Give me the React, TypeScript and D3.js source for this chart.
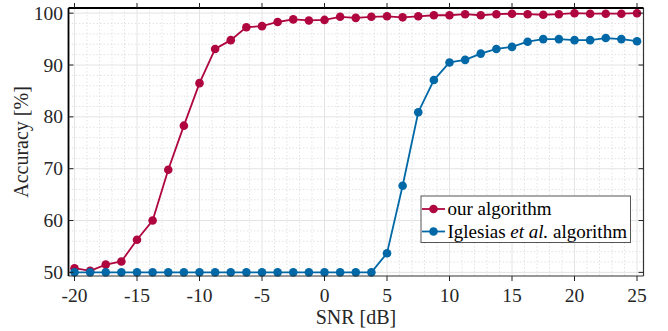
import { useRef, useEffect } from 'react';
import * as d3 from 'd3';

const snr = d3.range(37).map((i) => -20 + i * 1.25);

const ourAlgorithm = [
  50.8, 50.3, 51.5, 52.1, 56.3, 60.0, 69.8, 78.3, 86.5, 93.1, 94.8, 97.3, 97.5,
  98.3, 98.8, 98.6, 98.7, 99.3, 99.1, 99.3, 99.4, 99.2, 99.4, 99.6, 99.6, 99.8,
  99.6, 99.8, 99.9, 99.8, 99.7, 99.8, 100.0, 99.9, 99.9, 99.9, 100.0,
];

const iglesias = [
  50.0, 50.0, 50.0, 50.0, 50.0, 50.0, 50.0, 50.0, 50.0, 50.0, 50.0, 50.0, 50.0,
  50.0, 50.0, 50.0, 50.0, 50.0, 50.0, 50.0, 53.7, 66.7, 80.9, 87.1, 90.5, 91.0,
  92.2, 93.1, 93.5, 94.5, 95.0, 95.0, 94.8, 94.8, 95.2, 95.0, 94.6,
];

const xTicks = [-20, -15, -10, -5, 0, 5, 10, 15, 20, 25];
const yTicks = [50, 60, 70, 80, 90, 100];

const RED = '#b0063f';
const BLUE = '#0068a6';
const FONT = 'Liberation Serif, Times New Roman, serif';

export default function App() {
  const svgRef = useRef<SVGSVGElement>(null);

  useEffect(() => {
    if (!svgRef.current) return;
    const svg = d3.select(svgRef.current);
    svg.selectAll('*').remove();

    const width = 668;
    const height = 331;
    const m = { left: 68.5, right: 24.5, top: 8, bottom: 55 };

    const x = d3.scaleLinear().domain([-20.48, 25.52]).range([m.left, width - m.right]);
    const y = d3.scaleLinear().domain([49.3, 101]).range([height - m.bottom, m.top]);
    const [x0, x1] = x.range();
    const [y1, y0] = y.range();

    // grid
    const grid = svg.append('g');
    const minorX = d3.range(-20, 26, 1).filter((v) => v % 5 !== 0);
    const minorY = d3.range(50, 101, 2).filter((v) => v % 10 !== 0);
    grid.selectAll('.mx').data(minorX).join('line')
      .attr('x1', (d) => x(d)).attr('x2', (d) => x(d)).attr('y1', y0).attr('y2', y1)
      .attr('stroke', '#dcdcdc').attr('stroke-width', 0.8).attr('stroke-dasharray', '1.5,2');
    grid.selectAll('.my').data(minorY).join('line')
      .attr('x1', x0).attr('x2', x1).attr('y1', (d) => y(d)).attr('y2', (d) => y(d))
      .attr('stroke', '#dcdcdc').attr('stroke-width', 0.8).attr('stroke-dasharray', '1.5,2');
    grid.selectAll('.gx').data(xTicks).join('line')
      .attr('x1', (d) => x(d)).attr('x2', (d) => x(d)).attr('y1', y0).attr('y2', y1)
      .attr('stroke', '#e4e4e4').attr('stroke-width', 1);
    grid.selectAll('.gy').data(yTicks).join('line')
      .attr('x1', x0).attr('x2', x1).attr('y1', (d) => y(d)).attr('y2', (d) => y(d))
      .attr('stroke', '#e4e4e4').attr('stroke-width', 1);

    // series
    const series = [
      { name: 'our', values: ourAlgorithm, color: RED },
      { name: 'iglesias', values: iglesias, color: BLUE },
    ];
    const line = d3.line<[number, number]>().x((d) => x(d[0])).y((d) => y(d[1]));
    series.forEach((s) => {
      const pts = snr.map((v, i) => [v, s.values[i]] as [number, number]);
      const g = svg.append('g');
      g.append('path').attr('d', line(pts)).attr('fill', 'none')
        .attr('stroke', s.color).attr('stroke-width', 1.8);
      g.selectAll('circle').data(pts).join('circle')
        .attr('cx', (d) => x(d[0])).attr('cy', (d) => y(d[1])).attr('r', 4.3)
        .attr('fill', s.color);
    });

    // box + ticks
    const axes = svg.append('g');
    axes.append('line').attr('x1', x0).attr('x2', x1).attr('y1', y1).attr('y2', y1)
      .attr('stroke', '#333').attr('stroke-width', 1.2);
    axes.append('line').attr('x1', x1).attr('x2', x1).attr('y1', y0).attr('y2', y1)
      .attr('stroke', '#333').attr('stroke-width', 1.2);
    axes.append('line').attr('x1', x0).attr('x2', x1).attr('y1', y0).attr('y2', y0)
      .attr('stroke', '#000').attr('stroke-width', 1.8);
    axes.append('line').attr('x1', x0).attr('x2', x0).attr('y1', y0).attr('y2', y1)
      .attr('stroke', '#000').attr('stroke-width', 1.8);
    const tl = 5;
    xTicks.forEach((t) => {
      axes.append('line').attr('x1', x(t)).attr('x2', x(t)).attr('y1', y0).attr('y2', y0 - tl).attr('stroke', '#222');
      axes.append('line').attr('x1', x(t)).attr('x2', x(t)).attr('y1', y1).attr('y2', y1 + tl).attr('stroke', '#222');
    });
    yTicks.forEach((t) => {
      axes.append('line').attr('x1', x0).attr('x2', x0 + tl).attr('y1', y(t)).attr('y2', y(t)).attr('stroke', '#222');
      axes.append('line').attr('x1', x1).attr('x2', x1 - tl).attr('y1', y(t)).attr('y2', y(t)).attr('stroke', '#222');
    });

    // tick labels
    const labels = svg.append('g');
    labels.selectAll('.xt').data(xTicks).join('text')
      .attr('x', (d) => x(d)).attr('y', 302).attr('text-anchor', 'middle')
      .attr('font-family', FONT).attr('font-size', 19.5).attr('fill', '#262626')
      .text((d) => String(d));
    labels.selectAll('.yt').data(yTicks).join('text')
      .attr('x', 63).attr('y', (d) => y(d) + 6.5).attr('text-anchor', 'end')
      .attr('font-family', FONT).attr('font-size', 19.5).attr('fill', '#262626')
      .text((d) => String(d));

    labels.append('text').attr('x', (x0 + x1) / 2).attr('y', 324).attr('text-anchor', 'middle')
      .attr('font-family', FONT).attr('font-size', 20).attr('fill', '#262626').text('SNR [dB]');
    labels.append('text').attr('transform', `translate(28,${(y0 + y1) / 2}) rotate(-90)`)
      .attr('text-anchor', 'middle').attr('font-family', FONT).attr('font-size', 20)
      .attr('fill', '#262626').text('Accuracy [%]');

    // legend
    const lg = svg.append('g').attr('transform', 'translate(421,196)');
    lg.append('rect').attr('width', 209.5).attr('height', 46.5)
      .attr('fill', '#fff').attr('stroke', '#555').attr('stroke-width', 1);
    const entries = [
      { color: RED, label: null as null | string },
      { color: BLUE, label: 'ig' },
    ];
    entries.forEach((e, i) => {
      const cy = 13 + i * 22.5;
      lg.append('line').attr('x1', 1).attr('x2', 24).attr('y1', cy).attr('y2', cy)
        .attr('stroke', e.color).attr('stroke-width', 1.8);
      lg.append('circle').attr('cx', 12.5).attr('cy', cy).attr('r', 4.3).attr('fill', e.color);
      const t = lg.append('text').attr('x', 26.5).attr('y', cy + 6)
        .attr('font-family', FONT).attr('font-size', 19).attr('fill', '#000');
      if (e.label === null) {
        t.text('our algorithm');
      } else {
        t.append('tspan').text('Iglesias ');
        t.append('tspan').attr('font-style', 'italic').text('et al.');
        t.append('tspan').text(' algorithm');
      }
    });
  }, []);

  return (
    <svg
      ref={svgRef}
      width={668}
      height={331}
      style={{ position: 'absolute', left: 0, top: 0, background: '#fff' }}
    />
  );
}
